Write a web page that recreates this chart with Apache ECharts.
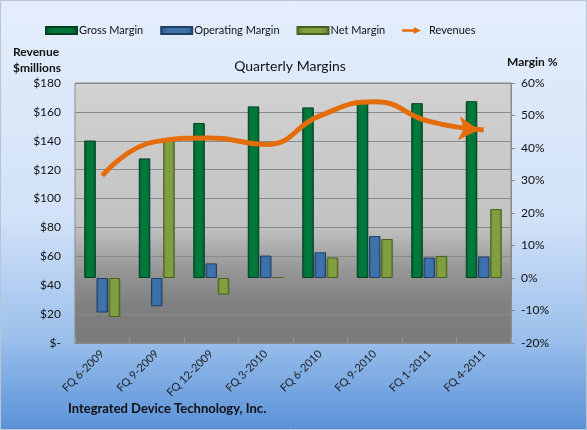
<!DOCTYPE html>
<html><head><meta charset="utf-8">
<script src="https://cdn.jsdelivr.net/npm/echarts@6/dist/echarts.min.js"></script>
<style>html,body{margin:0;padding:0;}#c{width:587px;height:430px;}</style>
</head><body><div id="c"></div>
<script>
const categories = ['FQ 6-2009','FQ 9-2009','FQ 12-2009','FQ 3-2010','FQ 6-2010','FQ 9-2010','FQ 1-2011','FQ 4-2011'];
const grossMargin = [42.3, 36.8, 47.7, 52.8, 52.5, 54.6, 53.8, 54.4];
const operatingMargin = [-10.6, -8.7, 4.5, 6.9, 7.9, 12.9, 6.3, 6.6];
const netMargin = [-12.0, 42.6, -5.1, 0.3, 6.3, 12.0, 6.8, 21.2];
const revenues = [115.8, 139.6, 142.0, 137.5, 157.4, 167.0, 153.4, 147.5];

const FONT = 'Lato, "Open Sans", sans-serif';
function hgrad(edge, mid) {
  return {type:'linear', x:0, y:0, x2:1, y2:0, colorStops:[
    {offset:0, color:edge},{offset:0.25, color:mid},{offset:0.75, color:mid},{offset:1, color:edge}]};
}
const chart = echarts.init(document.getElementById('c'));
chart.setOption({
  animation: false,
  backgroundColor: {type:'linear', x:0, y:0, x2:0, y2:1, colorStops:[
    {offset:0, color:'#E4EEFB'},{offset:0.5, color:'#D3E2F8'},{offset:0.78, color:'#9DC1EC'},{offset:1, color:'#5A92D8'}]},
  graphic: [
    {type:'rect', shape:{x:0.5, y:0.5, width:586, height:429}, style:{fill:'none', stroke:'#B8C4D4', lineWidth:1}, silent:true},
    {type:'text', left:13, top:44, style:{text:'Revenue\n$millions', font:'bold 12px ' + FONT, fill:'#111', lineHeight:16}},
    {type:'text', left:507, top:56, style:{text:'Margin %', font:'bold 12px ' + FONT, fill:'#111'}},
    {type:'text', left:68, top:402, style:{text:'Integrated Device Technology, Inc.', font:'bold 13px ' + FONT, fill:'#111'}}
  ],
  title: {text:'Quarterly Margins', left:285, textAlign:'center', top:54,
    textStyle:{fontSize:14, fontWeight:'normal', color:'#111', fontFamily:FONT}},
  legend: {
    left: 40, top: 20, itemGap: 17, itemWidth: 31, itemHeight: 7,
    textStyle:{fontSize:11, color:'#111', fontFamily:FONT, padding:[0,0,0,-3]},
    data: [
      {name:'Gross Margin', icon:'rect'},
      {name:'Operating Margin', icon:'rect'},
      {name:'Net Margin', icon:'rect'},
      {name:'Revenues', icon:'path://M0,4 L20,4 L20,0 L32,6 L20,12 L20,8 L0,8 Z'}
    ]
  },
  grid: {left:75, right:76, top:83, bottom:87, show:true,
    backgroundColor:{type:'linear', x:0, y:0, x2:0, y2:1, colorStops:[
      {offset:0, color:'#D2D2D2'},{offset:0.55, color:'#C2C2C2'},{offset:0.72, color:'#969696'},{offset:0.85, color:'#808080'},{offset:1, color:'#7A7A7A'}]},
    borderColor:'#8A8A8A', borderWidth:1},
  xAxis: {
    type:'category', data:categories,
    axisLine:{show:true, lineStyle:{color:'#8A8A8A'}},
    axisTick:{show:true, inside:true, length:5, lineStyle:{color:'#9A9A9A'}},
    axisLabel:{rotate:45, fontSize:11, color:'#222', fontFamily:FONT, margin:9}
  },
  yAxis: [
    {type:'value', min:0, max:180, interval:20, position:'left',
      axisLine:{show:false}, axisTick:{show:false},
      axisLabel:{fontSize:12, color:'#111', fontFamily:FONT, margin:14,
        formatter: v => v === 0 ? '$-' : '$' + v},
      splitLine:{show:true, lineStyle:{color:'#8A8A8A', width:1}}},
    {type:'value', min:-20, max:60, interval:10, position:'right',
      axisLine:{show:true, lineStyle:{color:'#8A8A8A'}},
      axisTick:{show:true, length:4, lineStyle:{color:'#8A8A8A'}},
      axisLabel:{fontSize:12, color:'#111', fontFamily:FONT, margin:10,
        formatter: v => v + '%'},
      splitLine:{show:false}}
  ],
  series: [
    {name:'Gross Margin', type:'bar', yAxisIndex:1, data:grossMargin,
      barGap:'6%', barCategoryGap:'34%',
      itemStyle:{color:hgrad('#00542A','#00783B'), borderColor:'#004020', borderWidth:1}},
    {name:'Operating Margin', type:'bar', yAxisIndex:1, data:operatingMargin,
      itemStyle:{color:hgrad('#2E5A8C','#3D72AC'), borderColor:'#223F62', borderWidth:1}},
    {name:'Net Margin', type:'bar', yAxisIndex:1, data:netMargin,
      itemStyle:{color:hgrad('#62802E','#80A040'), borderColor:'#4A6020', borderWidth:1}},
    {name:'Revenues', type:'line', yAxisIndex:0, data:revenues, smooth:0.5,
      symbol:'none', z:5,
      itemStyle:{color:'#E46C0A'},
      lineStyle:{color:'#E46C0A', width:5},
      markPoint:{silent:true, label:{show:false},
        data:[{coord:[7, revenues[7]], symbol:'arrow', symbolSize:[18,20], symbolRotate:-95, symbolOffset:[-5,0],
          itemStyle:{color:'#E46C0A'}}]}}
  ]
});
</script></body></html>
